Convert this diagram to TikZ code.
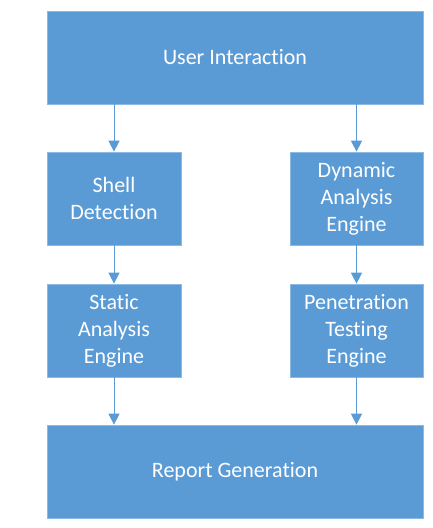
\documentclass[tikz,border=0pt]{standalone}
\usepackage{fontspec}
\setmainfont{Carlito}[Ligatures={NoCommon,NoRequired,NoContextual}]
\usetikzlibrary{arrows.meta}
\definecolor{boxblue}{RGB}{91,155,213}
\definecolor{edgeblue}{RGB}{140,186,228}
\begin{document}
\begin{tikzpicture}[x=1pt,y=-1pt,
  blk/.style={rectangle, fill=boxblue, draw=edgeblue, line width=0.7pt, text=white,
    align=center, inner sep=0pt, font=\fontsize{22}{27}\selectfont},
  conn/.style={draw=boxblue, line width=1pt, -{Triangle[length=11pt,width=11pt]}}]
\useasboundingbox (0,0) rectangle (432,528);
\node[blk, minimum width=376pt, minimum height=93pt] (ui) at (235,57.5) {User Interaction};
\node[blk, minimum width=134pt, minimum height=93pt] (shell) at (114,198.5) {Shell\\Detection};
\node[blk, minimum width=133pt, minimum height=93pt] (dyn) at (356.5,198.5) {Dynamic\\Analysis\\Engine};
\node[blk, minimum width=134pt, minimum height=93pt] (stat) at (114,330.5) {Static\\Analysis\\Engine};
\node[blk, minimum width=133pt, minimum height=93pt] (pen) at (356.5,330.5) {Penetration\\Testing\\Engine};
\node[blk, minimum width=376pt, minimum height=93pt] (rep) at (235,471.5) {Report Generation};
\draw[conn] (shell.north |- ui.south) -- (shell.north);
\draw[conn] (dyn.north |- ui.south) -- (dyn.north);
\draw[conn] (shell) -- (stat);
\draw[conn] (dyn) -- (pen);
\draw[conn] (stat.south) -- (stat.south |- rep.north);
\draw[conn] (pen.south) -- (pen.south |- rep.north);
\end{tikzpicture}
\end{document}
